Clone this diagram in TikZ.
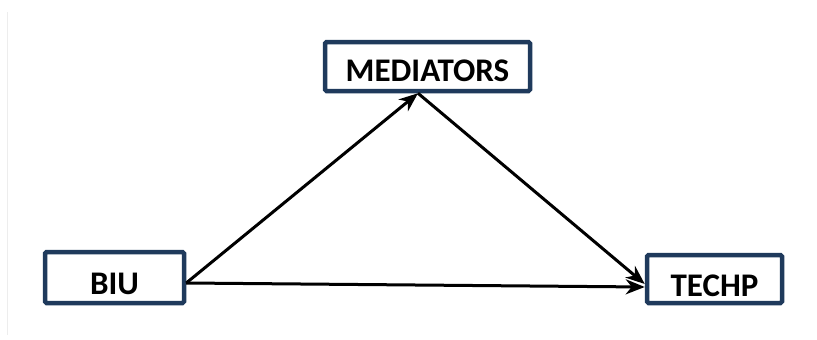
\documentclass[tikz,border=0pt]{standalone}
\usepackage{fontspec}
\setmainfont{Carlito}
\usetikzlibrary{arrows.meta,calc}
\definecolor{boxnavy}{HTML}{1F3A5C}
\tikzset{
  box/.style={draw=boxnavy, line width=4.5pt, fill=white, rounded corners=1.5pt,
    font=\fontsize{33}{38}\selectfont\bfseries, inner sep=0pt},
  link/.style={line width=3pt, -{Stealth[length=19pt,width=15pt,inset=6pt]}}
}
\begin{document}
\begin{tikzpicture}[x=1pt,y=-1pt]
\useasboundingbox (0,0) rectangle (817,340);
\fill[white] (0,0) rectangle (817,340);
\draw[color=black!7, line width=1pt] (7,12) -- (7,335);
\node[box, minimum width=205pt, minimum height=49pt] (med) at (427.5,66.5) {\raisebox{-4pt}[\height][0pt]{MEDIATORS}};
\node[box, minimum width=139pt, minimum height=51pt] (biu) at (114.5,277.5) {\raisebox{-6pt}[\height][0pt]{BIU}};
\node[box, minimum width=135pt, minimum height=48pt] (techp) at (714.5,279) {\raisebox{-6.5pt}[\height][0pt]{TECHP}};
\coordinate (bstart) at ($(biu.east)+(0,5.5)$);
\coordinate (mtop) at ($(med.south)+(-9.5,0)$);
\coordinate (tend) at ($(techp.west)+(0,5)$);
\coordinate (tend2) at ($(techp.west)+(0,8)$);
\draw[link] (bstart) -- (mtop);
\draw[link] (mtop) -- (tend);
\draw[link] (bstart) -- (tend2);
\end{tikzpicture}
\end{document}
